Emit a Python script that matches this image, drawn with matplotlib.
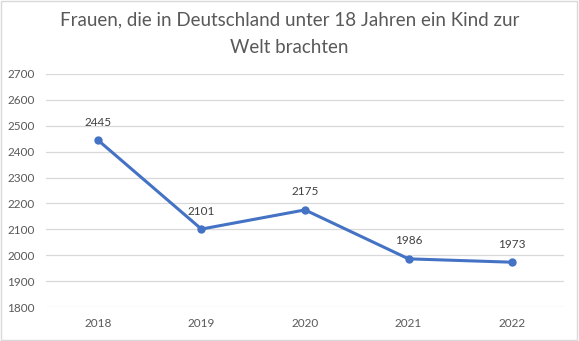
import matplotlib.pyplot as plt

years = ['2018', '2019', '2020', '2021', '2022']
values = [2445, 2101, 2175, 1986, 1973]
yticks = list(range(1800, 2701, 100))

plt.rcParams['font.family'] = ['Lato', 'DejaVu Sans']

fig = plt.figure(figsize=(5.79, 3.41), dpi=100)
ax = fig.add_axes([0.0795, 0.0997, 0.8945, 0.6833])

x = list(range(len(years)))
ax.plot(x, values, color='#4472C4', linewidth=2.2, marker='o', markersize=5)
for xi, v in zip(x, values):
    ax.annotate(str(v), (xi, v), xytext=(0, 9), textcoords='offset points',
                ha='center', va='bottom', fontsize=8.5, color='#404040')

ax.set_xlim(-0.5, len(years) - 0.5)
ax.set_ylim(1800, 2700)
ax.set_xticks(x)
ax.set_xticklabels(years)
ax.set_yticks(yticks)
ax.tick_params(axis='both', length=0, labelsize=8.5, colors='#595959')
ax.tick_params(axis='x', pad=8)
ax.tick_params(axis='y', pad=8)
ax.grid(axis='y', color='#D9D9D9', linewidth=0.9)
ax.set_axisbelow(True)
for s in ax.spines.values():
    s.set_visible(False)

fig.text(0.5, 0.9, 'Frauen, die in Deutschland unter 18 Jahren ein Kind zur\nWelt brachten',
         ha='center', va='center', fontsize=13.5, color='#595959', linespacing=1.75)

fig.patches.append(plt.Rectangle((0.002, 0.003), 0.995, 0.993, transform=fig.transFigure,
                                 fill=False, edgecolor='#D9D9D9', linewidth=1))

fig.savefig('out.png', dpi=100)
